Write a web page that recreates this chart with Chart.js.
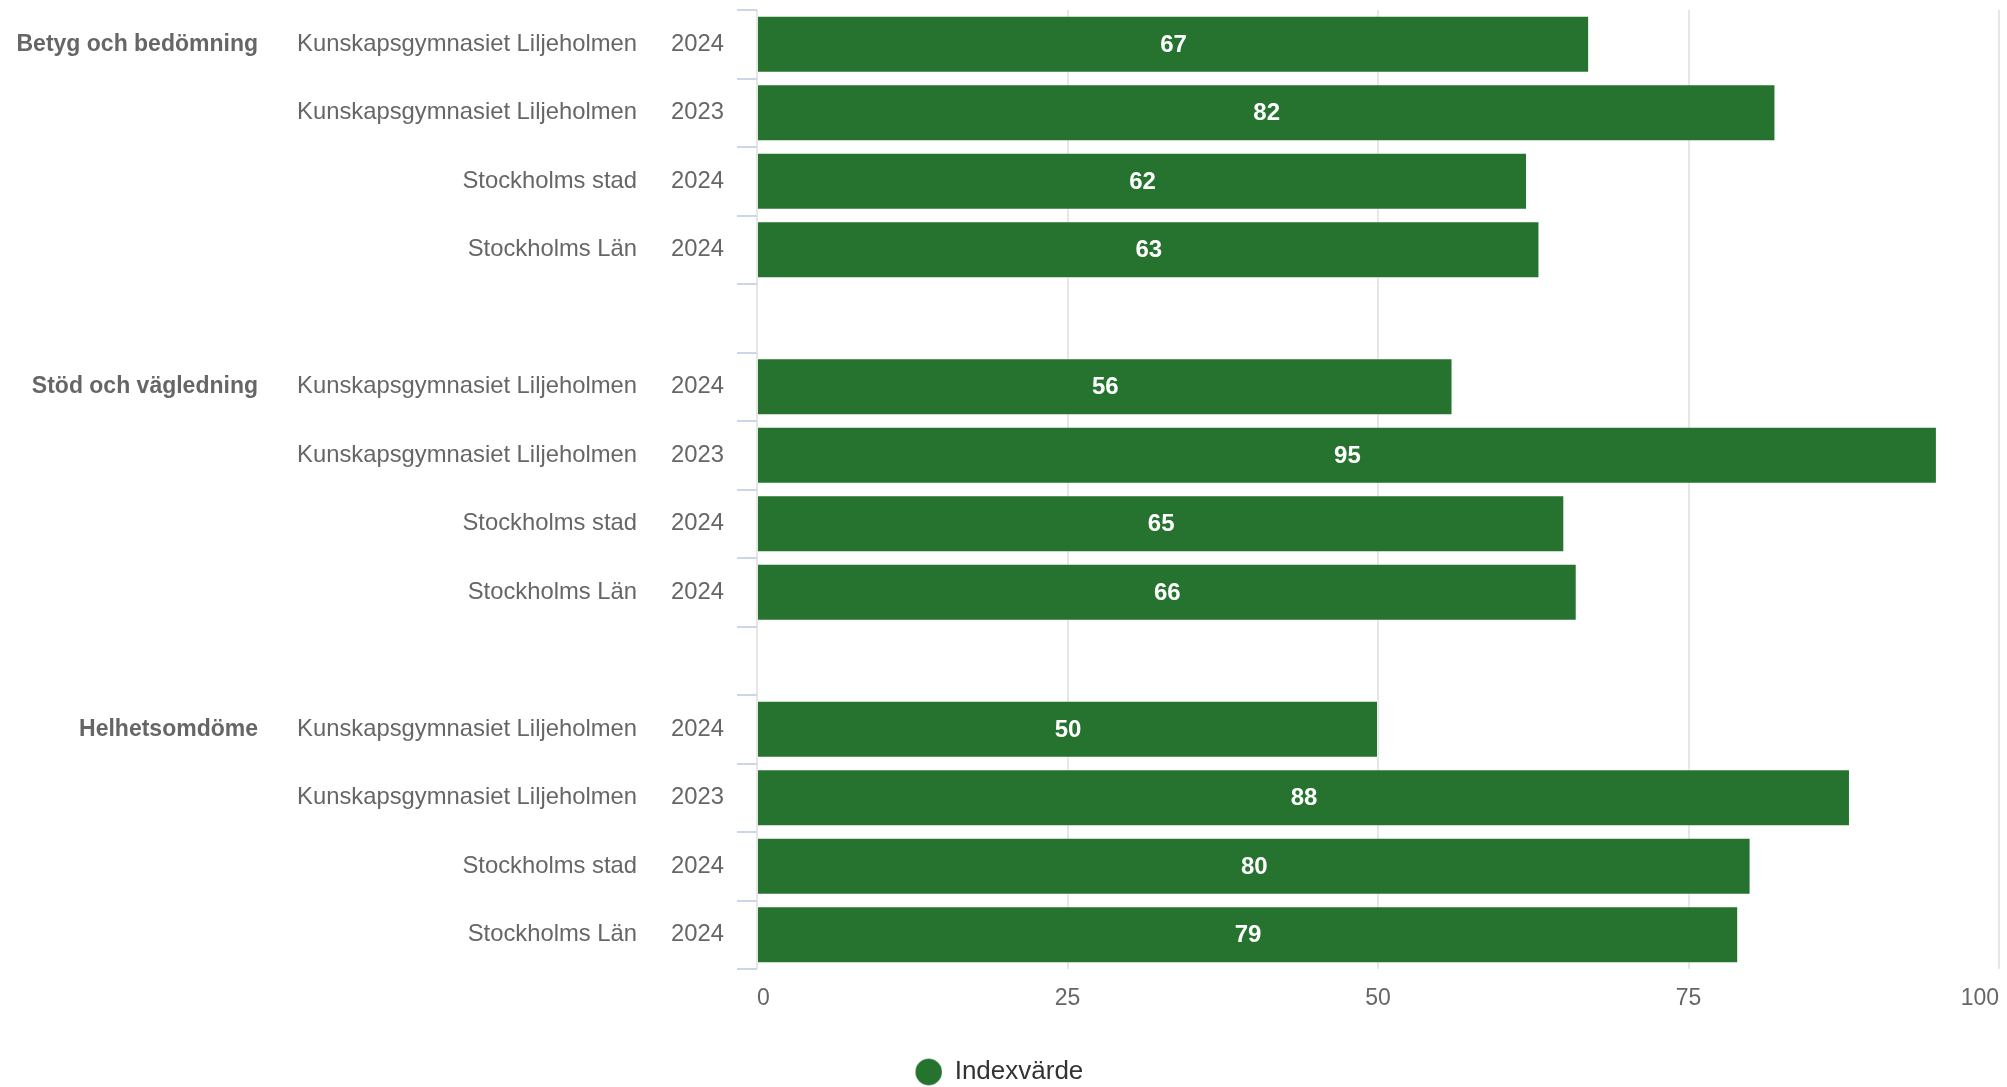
<!DOCTYPE html>
<html lang="sv">
<head>
<meta charset="utf-8">
<title>Indexvärde</title>
<script src="https://cdn.jsdelivr.net/npm/chart.js@4.4.1/dist/chart.umd.min.js"></script>
<style>
  html, body { margin: 0; padding: 0; background: #fff; }
  #wrap { width: 2007px; height: 1087px; position: relative; }
</style>
</head>
<body>
<div id="wrap"><canvas id="myChart"></canvas></div>
<script>
// data
const groups = ["Betyg och bedömning", "Stöd och vägledning", "Helhetsomdöme"];
const names = ["Kunskapsgymnasiet Liljeholmen", "Kunskapsgymnasiet Liljeholmen", "Stockholms stad", "Stockholms Län"];
const years = ["2024", "2023", "2024", "2024"];
const betyg = [67, 82, 62, 63];
const stod = [56, 95, 65, 66];
const helhet = [50, 88, 80, 79];
const xTicks = [0, 25, 50, 75, 100];

const groupValues = [betyg, stod, helhet];

// build rows, with an empty row between groups
const groupLabels = [];
const nameLabels = [];
const yearLabels = [];
const values = [];
groups.forEach((g, gi) => {
  if (gi > 0) {
    groupLabels.push("");
    nameLabels.push("");
    yearLabels.push("");
    values.push(null);
  }
  names.forEach((n, i) => {
    groupLabels.push(i === 0 ? g : "");
    nameLabels.push(n);
    yearLabels.push(years[i]);
    values.push(groupValues[gi][i]);
  });
});

const font = "'Liberation Sans', Arial, Helvetica, sans-serif";

// y axes: fixed widths, no extra padding above/below
const fitY = (w) => (axis) => {
  axis.width = w;
  axis.paddingTop = 0;
  axis.paddingBottom = 0;
};

// white value labels in the middle of each bar
const barLabels = {
  id: "barLabels",
  afterDatasetsDraw(chart) {
    const ctx = chart.ctx;
    const meta = chart.getDatasetMeta(0);
    ctx.save();
    ctx.fillStyle = "#ffffff";
    ctx.font = "bold 24px " + font;
    ctx.textAlign = "center";
    ctx.textBaseline = "middle";
    meta.data.forEach((bar, i) => {
      const v = chart.data.datasets[0].data[i];
      if (v === null) return;
      ctx.fillText(String(v), (bar.x + bar.base) / 2, bar.y + 1);
    });
    ctx.restore();
  }
};

new Chart(document.getElementById("myChart"), {
  type: "bar",
  data: {
    labels: yearLabels,
    datasets: [
      {
        label: "Indexvärde",
        data: values,
        backgroundColor: "#26732f",
        borderColor: "rgba(255,255,255,0.35)",
        borderWidth: 1,
        barPercentage: 0.835,
        categoryPercentage: 1,
      },
    ],
  },
  options: {
    indexAxis: "y",
    responsive: true,
    maintainAspectRatio: false,
    animation: false,
    layout: { padding: { top: 10, right: 8, left: 0, bottom: -8 } },
    scales: {
      x: {
        min: 0,
        max: 100,
        afterBuildTicks: (axis) => { axis.ticks = xTicks.map((v) => ({ value: v })); },
        afterFit: (axis) => {
          axis.height = 86;
          axis.paddingLeft = 0;
          axis.paddingRight = 0;
        },
        grid: { color: "#e6e6e6", lineWidth: 2, drawTicks: false },
        border: { display: false },
        ticks: { color: "#666666", font: { family: font, size: 23 }, padding: 16, align: "inner" },
      },
      y: {
        type: "category",
        position: "left",
        weight: 0,
        offset: true,
        afterFit: fitY(110),
        grid: { offset: true, drawOnChartArea: false, tickLength: 20, color: "#ccd6eb", lineWidth: 2 },
        border: { display: false },
        ticks: { color: "#666666", font: { family: font, size: 23.8 }, padding: 13, autoSkip: false },
      },
      y2: {
        type: "category",
        position: "left",
        weight: 1,
        offset: true,
        labels: nameLabels,
        afterFit: fitY(379),
        grid: { display: false, drawTicks: false },
        border: { display: false },
        ticks: { color: "#666666", font: { family: font, size: 23.8 }, padding: 10, autoSkip: false },
      },
      y3: {
        type: "category",
        position: "left",
        weight: 2,
        offset: true,
        labels: groupLabels,
        afterFit: fitY(268),
        grid: { display: false, drawTicks: false },
        border: { display: false },
        ticks: { color: "#666666", font: { family: font, size: 23, weight: "bold" }, padding: 10, autoSkip: false },
      },
    },
    plugins: {
      legend: {
        position: "bottom",
        labels: {
          usePointStyle: true,
          pointStyle: "circle",
          boxHeight: 19,
          color: "#333333",
          font: { family: font, size: 26 },
          padding: 4,
        },
      },
      tooltip: { enabled: false },
    },
  },
  plugins: [barLabels],
});
</script>
</body>
</html>
